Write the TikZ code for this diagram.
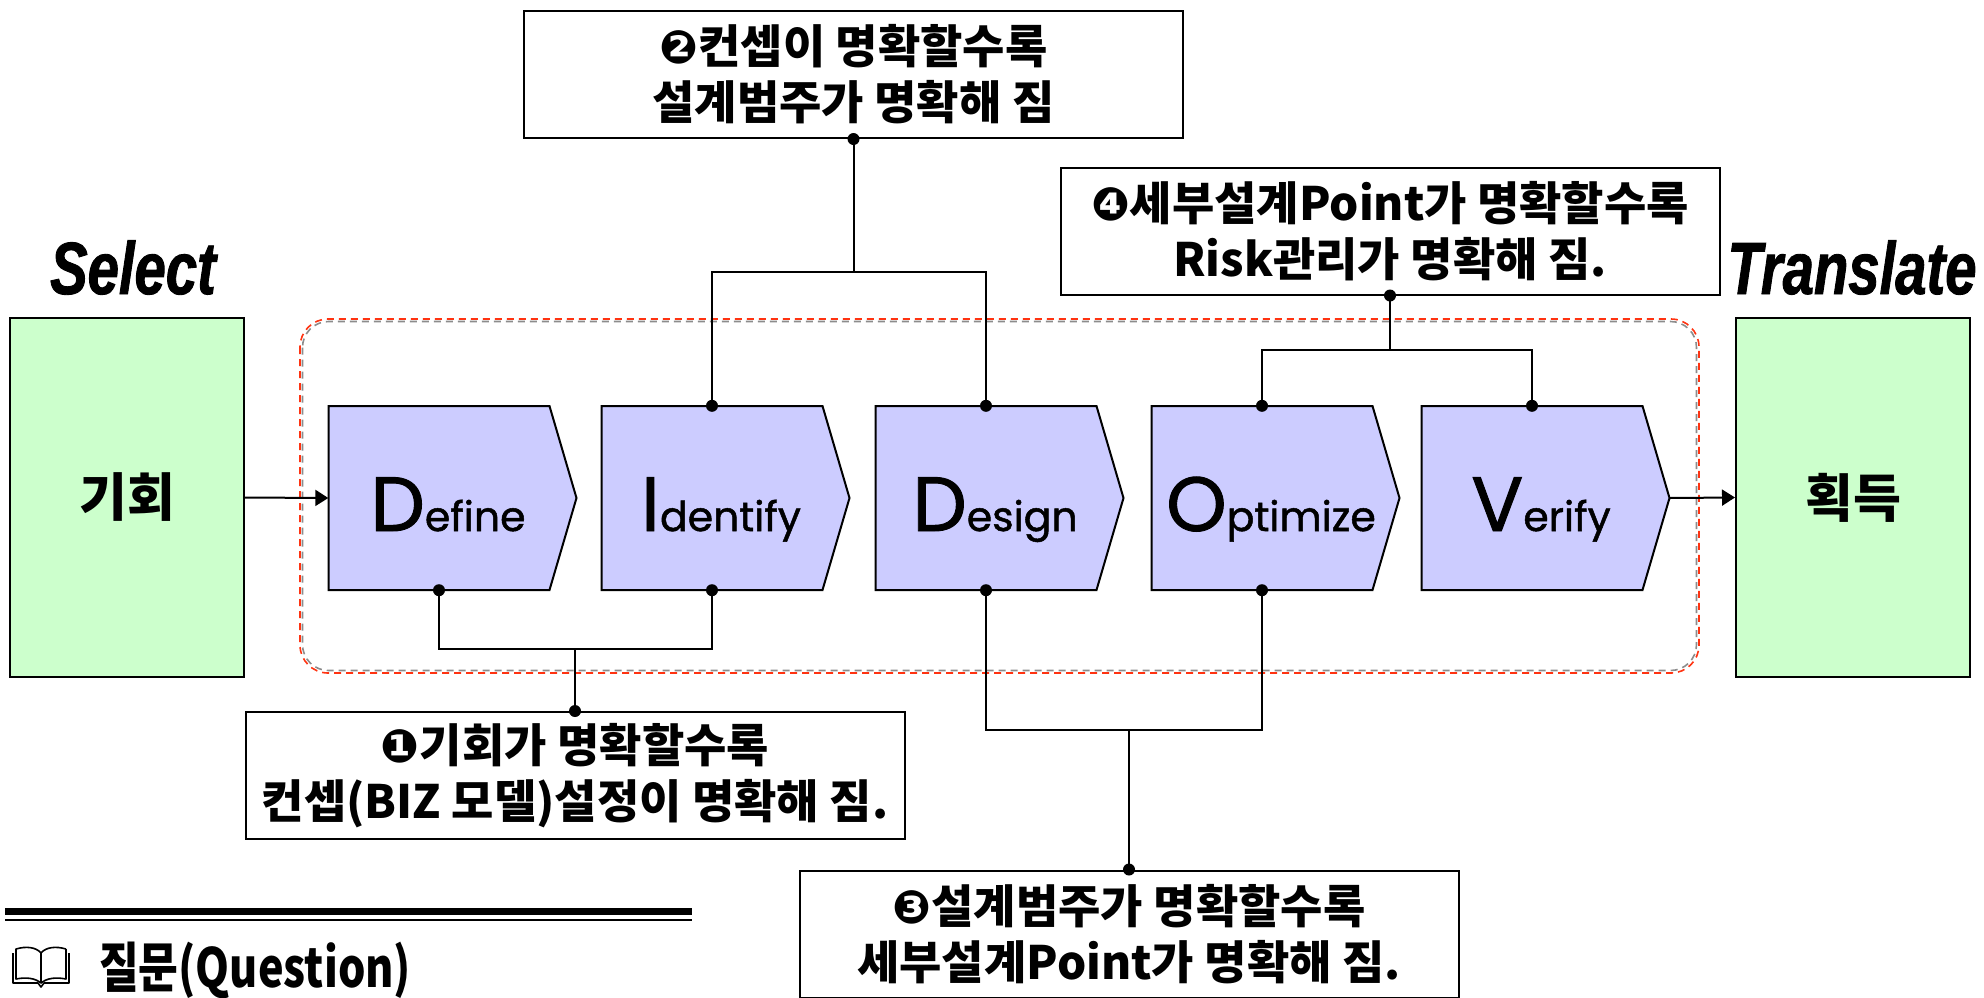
\documentclass[tikz,border=0pt]{standalone}
\usepackage{fontspec}
\usetikzlibrary{arrows.meta}
\newfontfamily\kr{Noto Sans CJK KR}
\newfontfamily\krq{Noto Sans CJK KR}[FakeStretch=0.8]
\newfontfamily\lat{Poppins}[FakeBold=1.2]
\newfontfamily\ital{Liberation Sans}[FakeStretch=0.76,FakeBold=1.2]
\newfontfamily\dv{DejaVu Sans}
\definecolor{gfill}{HTML}{CCFFCC}
\definecolor{cfill}{HTML}{CCCCFF}
\definecolor{dashred}{HTML}{FF3311}
\definecolor{dashgray}{HTML}{8C8C8C}
\begin{document}
\begin{tikzpicture}[x=1pt,y=-1pt,
  conn/.style={line width=2pt, black},
  dot/.style={fill=black},
  greenbox/.style={draw, line width=2pt, fill=gfill, minimum width=234pt, minimum height=359pt,
    inner sep=0pt, font=\kr\bfseries\fontsize{52}{52}\selectfont},
  note/.style={draw, line width=2pt, fill=white, minimum width=659pt, minimum height=127pt,
    inner sep=0pt, align=center, font=\kr\bfseries\fontsize{46}{56}\selectfont},
  chevron/.style={draw, line width=2pt, fill=cfill},
  flowarrow/.style={line width=2pt, -{Triangle[length=13pt,width=16pt]}},
  phase/.style={font=\ital\bfseries\itshape\fontsize{74}{74}\selectfont, inner sep=0pt}]
\useasboundingbox (0,0) rectangle (1984,997);

% process frame (red dashes over a grey dashed inner line)
\draw[dashgray, line width=1.6pt, dash pattern=on 7pt off 5pt, rounded corners=26pt]
  (302.5,321.5) rectangle (1696.5,670.5);
\draw[dashred, line width=1.6pt, dash pattern=on 7pt off 5pt, rounded corners=28pt]
  (300,319) rectangle (1699,673);

% DIDOV chevrons
\foreach \nm/\x/\L/\r in {def/439/D/efine, idn/712/I/dentify, des/986/D/esign, opt/1262/O/ptimize, ver/1532/V/erify}{
  \filldraw[chevron] (\x-110.5,406) -- (\x+110.5,406) -- (\x+137.5,498) -- (\x+110.5,590) -- (\x-110.5,590) -- cycle;
  \node[inner sep=0pt, minimum width=221pt, minimum height=184pt] (\nm) at (\x,498) {};
  \coordinate (\nm tip) at (\x+137.5,498);
  \node[anchor=base, font=\lat, inner sep=0pt] at (\x+9,531)
    {{\fontsize{77}{77}\selectfont\L}{\fontsize{41}{41}\selectfont\r}};
}

% start and end boxes
\node[greenbox] (chance) at (127,497.5) {기회};
\node[greenbox] (gain) at (1853,497.5) {획득};
\node[phase, anchor=base] (sel) at (133,294) {Select};
\node[phase, anchor=base] (tra) at (1852,294) {Translate};

\draw[flowarrow] (chance.east) -- (def.west);
\draw[flowarrow] (vertip) -- (gain.west);

% explanation boxes
\node[note] (n2) at (853.5,74.5) {{\dv ❷}컨셉이 명확할수록\\설계범주가 명확해 짐};
\node[note] (n4) at (1390,231) {{\dv ❹}세부설계Point가 명확할수록\\Risk관리가 명확해 짐.};
\node[note] (n1) at (575,775.5) {{\dv ❶}기회가 명확할수록\\컨셉(BIZ 모델)설정이 명확해 짐.};
\node[note] (n3) at (1129,934) {{\dv ❸}설계범주가 명확할수록\\세부설계Point가 명확해 짐.};

% junctions
\coordinate (j2) at (n2.south |- 0,272);
\coordinate (j4) at (n4.south |- 0,350);
\coordinate (j1) at (n1.north |- 0,649);
\coordinate (j3) at (n3.north |- 0,730);

\draw[conn] (idn.north) |- (j2) -| (des.north);
\draw[conn] (j2) -- (n2.south);
\draw[conn] (opt.north) |- (j4) -| (ver.north);
\draw[conn] (j4) -- (n4.south);
\draw[conn] (def.south) |- (j1) -| (idn.south);
\draw[conn] (j1) -- (n1.north);
\draw[conn] (des.south) |- (j3) -| (opt.south);
\draw[conn] (j3) -- (n3.north);

\foreach \p in {n2.south, idn.north, des.north, n4.south, opt.north, ver.north,
                def.south, idn.south, n1.north, des.south, opt.south, n3.north}
  \fill[dot] (\p) circle (6pt);

% section rule and heading
\draw[line width=7pt] (5,911.5) -- (692,911.5);
\draw[line width=2.5pt] (5,920) -- (692,920);

\begin{scope}[line width=1.6pt, line join=round]
  \draw (13,953) -- (13,983) -- (38,983) -- (41,987) -- (44,983) -- (69,983) -- (69,953);
  \draw (16,949) .. controls (26,946) and (36,947) .. (41,953) -- (41,983)
        .. controls (35,978) and (26,977) .. (16,979) -- cycle;
  \draw (66,949) .. controls (56,946) and (46,947) .. (41,953)
        (41,983) .. controls (47,978) and (56,977) .. (66,979) -- (66,949);
\end{scope}
\node[anchor=base west, inner sep=0pt, font=\krq\bfseries\fontsize{54}{54}\selectfont] (q) at (99,987) {질문(Question)};
\end{tikzpicture}
\end{document}
